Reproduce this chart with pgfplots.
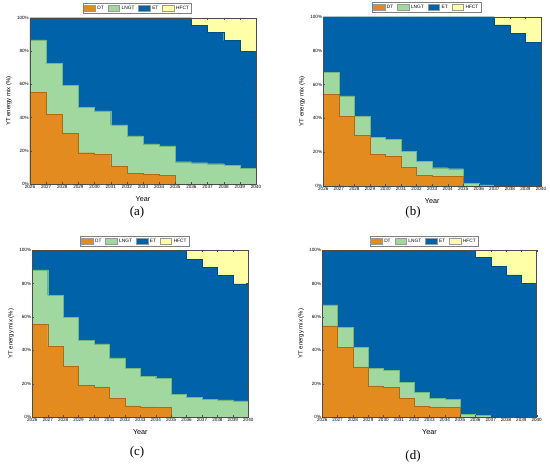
\documentclass[border=0pt]{standalone}
\usepackage{fontspec}
\setmainfont{Liberation Sans}
\newfontfamily\serifpanel{Liberation Serif}
\usepackage{pgfplots}
\pgfplotsset{compat=1.18}
\definecolor{dtc}{HTML}{E38B1F}
\definecolor{dtd}{HTML}{B06A12}
\definecolor{lngc}{HTML}{A0D8A0}
\definecolor{lngd}{HTML}{78B878}
\definecolor{etc}{HTML}{0063A9}
\definecolor{etd}{HTML}{004C85}
\definecolor{hfc}{HTML}{FFFFA8}
\definecolor{hfd}{HTML}{C8C878}
\pgfplotsset{
  panel/.style={
    scale only axis,
    xmin=2026, xmax=2040, ymin=0, ymax=100,
    xtick={2026,...,2040}, ytick={0,20,...,100},
    minor x tick num=1,
    tick align=inside,
    major tick length=2pt, minor tick length=1.2pt,
    tick style={black!70, line width=0.3pt},
    axis line style={black!70, line width=0.4pt},
    /pgf/number format/1000 sep={},
    /pgf/number format/assume math mode=true,
    yticklabel={\pgfmathprintnumber{\tick}\%},
    ticklabel style={font=\fontsize{4.6}{5}\selectfont, inner sep=1pt},
    xticklabel style={yshift=-0.5pt},
    xlabel={Year}, ylabel={YT energy mix (\%)},
    xlabel style={font=\fontsize{7.2}{8}\selectfont, yshift=-3pt},
    ylabel style={font=\fontsize{6}{7}\selectfont, yshift=1pt},
    axis on top,
    legend columns=4,
    legend style={at={(0.475,1)}, yshift=4pt, anchor=south,
      font=\fontsize{4.8}{5}\selectfont, draw=black!50, line width=0.3pt,
      inner sep=0.6pt,
      /tikz/every odd column/.append style={column sep=0pt},
      /tikz/every even column/.append style={column sep=2pt}},
    legend cell align=left,
    legend image code/.code={\draw[#1, draw=black!40] (0pt,-3pt) rectangle (11.5pt,3pt);},
    clip=true,
  },
  lay/.style={const plot, line width=0.4pt, forget plot},
}
\newcommand{\legendset}{%
  \addlegendimage{fill=dtc}\addlegendentry{DT}
  \addlegendimage{fill=lngc}\addlegendentry{LNGT}
  \addlegendimage{fill=etc}\addlegendentry{ET}
  \addlegendimage{fill=hfc}\addlegendentry{HFCT}
}
\begin{document}
\begin{tikzpicture}
\useasboundingbox (0pt,0pt) rectangle (550pt,467pt);
% ---------------- (a)
\begin{axis}[panel, at={(30pt,283pt)}, anchor=south west, width=226pt, height=166.3pt]
\legendset
\addplot[lay, fill=hfc, draw=none] coordinates {(2026,100)(2040,100)} \closedcycle;
\addplot[lay, fill=etc, draw=etd] coordinates {(2026,100)(2027,100)(2028,100)(2029,100)(2030,100)(2031,100)(2032,100)(2033,100)(2034,100)(2035,100)(2036,95.6)(2037,91.4)(2038,86.2)(2039,79.8)(2040,79.8)} \closedcycle;
\addplot[lay, fill=lngc, draw=lngd] coordinates {(2026,86.6)(2027,72.7)(2028,59.3)(2029,46.1)(2030,43.9)(2031,35.5)(2032,28.9)(2033,24.2)(2034,23.0)(2035,13.4)(2036,12.8)(2037,12.2)(2038,11.4)(2039,9.4)(2040,9.4)} \closedcycle;
\addplot[lay, fill=dtc, draw=dtd] coordinates {(2026,55.3)(2027,41.9)(2028,30.5)(2029,18.8)(2030,17.8)(2031,10.8)(2032,6.2)(2033,5.8)(2034,5.2)(2035,0)(2036,0)(2037,0)(2038,0)(2039,0)(2040,0)} \closedcycle;
\end{axis}
% ---------------- (b)
\begin{axis}[panel, at={(323.3pt,281pt)}, anchor=south west, width=217.7pt, height=169.3pt]
\legendset
\addplot[lay, fill=hfc, draw=none] coordinates {(2026,100)(2040,100)} \closedcycle;
\addplot[lay, fill=etc, draw=etd] coordinates {(2026,100)(2027,100)(2028,100)(2029,100)(2030,100)(2031,100)(2032,100)(2033,100)(2034,100)(2035,100)(2036,100)(2037,95.1)(2038,90.2)(2039,84.8)(2040,84.8)} \closedcycle;
\addplot[lay, fill=lngc, draw=lngd] coordinates {(2026,67.1)(2027,53.3)(2028,41.1)(2029,28.9)(2030,27.6)(2031,20.3)(2032,14.6)(2033,10.8)(2034,10.2)(2035,1.4)(2036,0.6)(2037,0)(2038,0)(2039,0)(2040,0)} \closedcycle;
\addplot[lay, fill=dtc, draw=dtd] coordinates {(2026,54.1)(2027,41.3)(2028,29.9)(2029,18.7)(2030,17.7)(2031,11.0)(2032,6.3)(2033,5.9)(2034,5.5)(2035,0)(2036,0)(2037,0)(2038,0)(2039,0)(2040,0)} \closedcycle;
\end{axis}
% ---------------- (c)
\begin{axis}[panel, at={(32.3pt,50pt)}, anchor=south west, width=216pt, height=166.7pt]
\legendset
\addplot[lay, fill=hfc, draw=none] coordinates {(2026,100)(2040,100)} \closedcycle;
\addplot[lay, fill=etc, draw=etd] coordinates {(2026,100)(2027,100)(2028,100)(2029,100)(2030,100)(2031,100)(2032,100)(2033,100)(2034,100)(2035,100)(2036,94.6)(2037,89.6)(2038,84.8)(2039,79.8)(2040,79.8)} \closedcycle;
\addplot[lay, fill=lngc, draw=lngd] coordinates {(2026,88.2)(2027,73.0)(2028,59.6)(2029,46.0)(2030,43.8)(2031,35.4)(2032,29.0)(2033,24.2)(2034,23.2)(2035,13.4)(2036,11.8)(2037,10.6)(2038,10.2)(2039,9.6)(2040,9.6)} \closedcycle;
\addplot[lay, fill=dtc, draw=dtd] coordinates {(2026,55.6)(2027,42.4)(2028,30.4)(2029,19.0)(2030,18.0)(2031,11.2)(2032,6.6)(2033,6.0)(2034,5.6)(2035,0)(2036,0)(2037,0)(2038,0)(2039,0)(2040,0)} \closedcycle;
\end{axis}
% ---------------- (d)
\begin{axis}[panel, at={(322.3pt,50pt)}, anchor=south west, width=214.4pt, height=166.7pt]
\legendset
\addplot[lay, fill=hfc, draw=none] coordinates {(2026,100)(2040,100)} \closedcycle;
\addplot[lay, fill=etc, draw=etd] coordinates {(2026,100)(2027,100)(2028,100)(2029,100)(2030,100)(2031,100)(2032,100)(2033,100)(2034,100)(2035,100)(2036,95.6)(2037,90.2)(2038,85.2)(2039,80.2)(2040,80.2)} \closedcycle;
\addplot[lay, fill=lngc, draw=lngd] coordinates {(2026,67.2)(2027,53.6)(2028,41.6)(2029,29.2)(2030,27.8)(2031,20.6)(2032,14.8)(2033,11.2)(2034,10.6)(2035,1.4)(2036,1.0)(2037,0)(2038,0)(2039,0)(2040,0)} \closedcycle;
\addplot[lay, fill=dtc, draw=dtd] coordinates {(2026,54.6)(2027,41.6)(2028,30.0)(2029,18.6)(2030,17.8)(2031,11.0)(2032,6.4)(2033,6.0)(2034,5.6)(2035,0)(2036,0)(2037,0)(2038,0)(2039,0)(2040,0)} \closedcycle;
\end{axis}
% panel labels
\node[font=\serifpanel\fontsize{13}{14}\selectfont] at (137pt,255pt) {(a)};
\node[font=\serifpanel\fontsize{13}{14}\selectfont] at (413pt,255pt) {(b)};
\node[font=\serifpanel\fontsize{13}{14}\selectfont] at (137pt,15pt) {(c)};
\node[font=\serifpanel\fontsize{13}{14}\selectfont] at (413pt,11pt) {(d)};
\end{tikzpicture}
\end{document}
